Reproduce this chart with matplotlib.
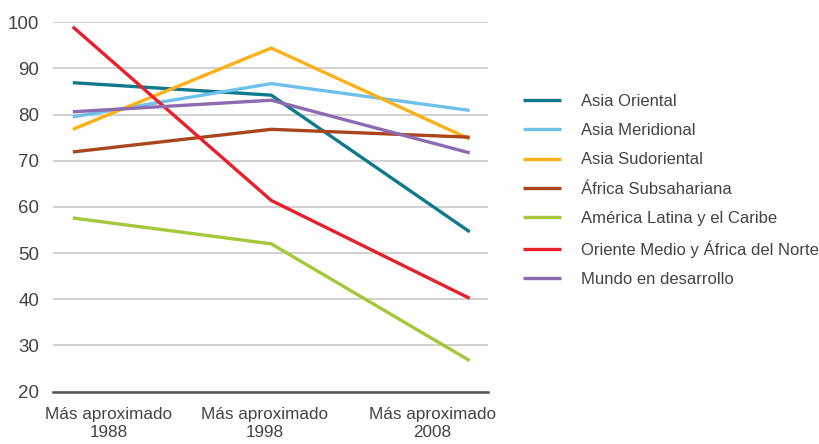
import matplotlib.pyplot as plt
import numpy as np

plt.rcParams['font.family'] = ['Liberation Sans', 'DejaVu Sans']

periods = ["Más aproximado\n1988", "Más aproximado\n1998", "Más aproximado\n2008"]

asia_oriental = [86.9, 84.2, 54.6]
asia_meridional = [79.5, 86.7, 80.9]
asia_sudoriental = [76.8, 94.4, 74.7]
africa_subsahariana = [71.9, 76.8, 75.1]
america_latina = [57.6, 52.0, 26.7]
oriente_medio = [99.0, 61.4, 40.2]
mundo = [80.6, 83.1, 71.7]

series = [
    ("Asia Oriental", asia_oriental, "#0e7a8c"),
    ("Asia Meridional", asia_meridional, "#6ec1ea"),
    ("Asia Sudoriental", asia_sudoriental, "#fbb117"),
    ("África Subsahariana", africa_subsahariana, "#a9461d"),
    ("América Latina y el Caribe", america_latina, "#a3c93a"),
    ("Oriente Medio y África del Norte", oriente_medio, "#e8202a"),
    ("Mundo en desarrollo", mundo, "#8d6bb1"),
]

fig = plt.figure(figsize=(8.2, 4.44), dpi=100)
ax = fig.add_axes([0.0646, 0.118, 0.530, 0.832])

x = np.arange(len(periods))
for name, vals, col in series:
    ax.plot(x, vals, color=col, lw=2.4, label=name, solid_capstyle='butt', zorder=3)

ax.set_xlim(-0.1, 2.09)
ax.set_ylim(20, 100)
ax.set_yticks(range(20, 101, 10))
ax.yaxis.grid(True, color="#c8c8c8", lw=1.2)
ax.set_axisbelow(True)
for s in ["top", "right", "left"]:
    ax.spines[s].set_visible(False)
ax.spines["bottom"].set_color("#555555")
ax.spines["bottom"].set_linewidth(1.8)
# the labels sit a bit off the data points, as in the source chart
ax.set_xticks(x + np.array([0.18, -0.035, -0.19]))
ax.set_xticklabels(periods, fontsize=12.3, color="#444444", linespacing=1.3)
ax.tick_params(axis="y", length=0, labelsize=13.5, labelcolor="#444444", pad=10)
ax.tick_params(axis="x", length=0, pad=11)

leg = fig.legend(loc="center left", bbox_to_anchor=(0.638, 0.571), frameon=False,
                 fontsize=12, handlelength=2.3, handletextpad=1.15, labelspacing=0.86,
                 borderpad=0, borderaxespad=0)
for t in leg.get_texts():
    t.set_color("#444444")

fig.savefig("out.png", dpi=100)
